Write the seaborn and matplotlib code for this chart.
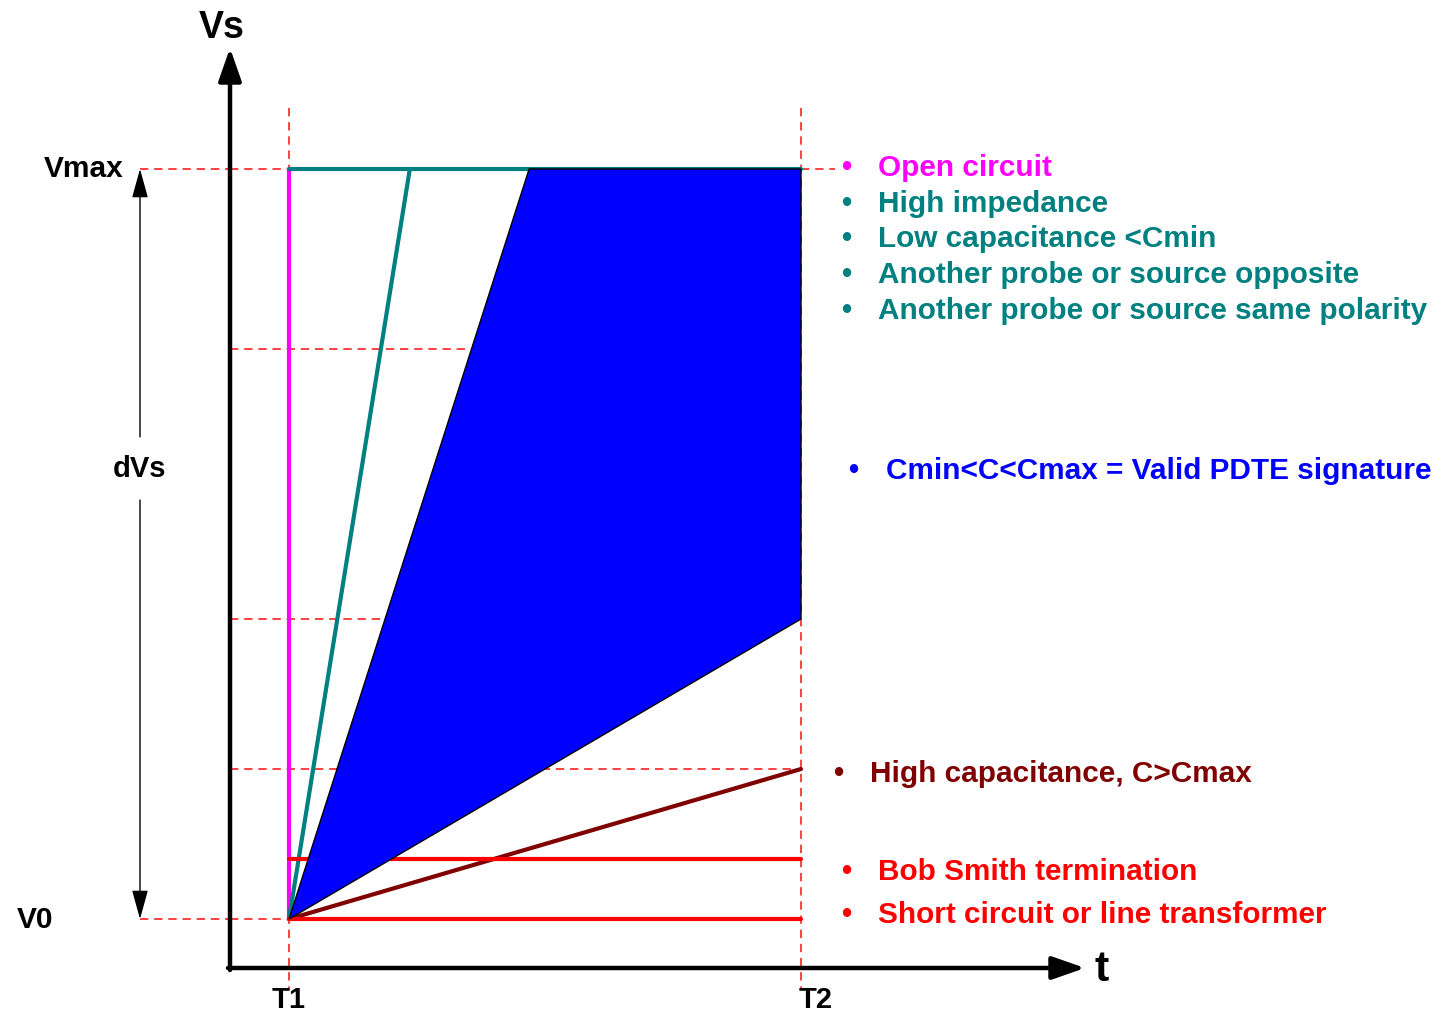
import matplotlib
matplotlib.use("Agg")
import matplotlib.pyplot as plt
from matplotlib.patches import ArrowStyle
import seaborn as sns
import pandas as pd

# ---------------- data (T1 = 0, T2 = 1 ; V0 = 0, Vmax = 1) ----------------
T1, T2 = 0.0, 1.0
V0, VMAX = 0.0, 1.0
ref_levels = [1.0, 0.76, 0.40, 0.20, 0.0]          # dashed reference levels
teal_t_at_vmax = 0.236                              # high impedance ramp reaches Vmax
valid_upper_t_at_vmax = 0.469                       # valid region upper boundary
valid_lower_v_at_t2 = 0.40                          # valid region lower boundary at T2
high_cap_v_at_t2 = 0.20                             # high capacitance ramp at T2
bob_smith_v = 0.08                                  # Bob Smith termination level
short_v = 0.0                                       # short circuit level

legend_items = [
    ("Open circuit", "#FF00FF", 165, 846, 878),
    ("High impedance", "#008080", 201, 846, 878),
    ("Low capacitance <Cmin", "#008080", 236, 846, 878),
    ("Another probe or source opposite", "#008080", 272, 846, 878),
    ("Another probe or source same polarity", "#008080", 308, 846, 878),
    ("Cmin<C<Cmax = Valid PDTE signature", "#0000FF", 468, 853, 886),
    ("High capacitance, C>Cmax", "#800000", 771, 838, 870),
    ("Bob Smith termination", "#FF0000", 869, 846, 878),
    ("Short circuit or line transformer", "#FF0000", 912, 846, 878),
]

# ---------------- figure ----------------
sns.set_theme(style="white")
plt.rcParams["font.family"] = ["Liberation Sans", "DejaVu Sans"]

W, H = 1445, 1013
fig = plt.figure(figsize=(W / 100, H / 100), dpi=100)
ax = fig.add_axes([0, 0, 1, 1])
XS, YS = 512.0, 750.0
X0P, Y0P = 289.0, 919.0
ax.set_xlim(-X0P / XS, (W - X0P) / XS)
ax.set_ylim((Y0P - H) / YS, Y0P / YS)
ax.axis("off")


def px(x):
    return (x - X0P) / XS


def py(y):
    return (Y0P - y) / YS


RED = "#FF2020"
dash = (0, (5, 3.5))

# dashed reference lines (behind everything)
for lv in ref_levels:
    ax.plot([px(230), T2], [lv, lv], color=RED, lw=1.2, ls=dash, zorder=1)
ax.plot([px(140), px(230)], [VMAX, VMAX], color=RED, lw=1.2, ls=dash, zorder=1)
ax.plot([px(140), px(230)], [V0, V0], color=RED, lw=1.2, ls=dash, zorder=1)
ax.plot([T2, px(835)], [VMAX, VMAX], color=RED, lw=1.2, ls=dash, zorder=1)
for tv in (T1, T2):
    ax.plot([tv, tv], [py(108), py(990)], color=RED, lw=1.2, ls=dash, zorder=1)

# curves
lines = pd.DataFrame({
    "t": [T1, T1, T1, teal_t_at_vmax, T1, T2, T1, T2, T1, T2, T1, T2],
    "v": [V0, VMAX, V0, VMAX, VMAX, VMAX, V0, high_cap_v_at_t2,
          bob_smith_v, bob_smith_v, short_v, short_v],
    "case": ["open", "open", "himp", "himp", "top", "top", "hicap", "hicap",
             "bob", "bob", "short", "short"],
})
palette = {"open": "#FF00FF", "himp": "#008080", "top": "#008080",
           "hicap": "#800000", "bob": "#FF0000", "short": "#FF0000"}
sns.lineplot(data=lines, x="t", y="v", hue="case", palette=palette,
             sort=False, estimator=None, lw=3, legend=False, ax=ax, zorder=3)

# valid region
ax.fill([T1, valid_upper_t_at_vmax, T2, T2],
        [V0, VMAX, VMAX, valid_lower_v_at_t2],
        facecolor="#0000FF", edgecolor="black", lw=1.0, zorder=4)

# axes arrows
head = ArrowStyle("-|>", head_length=0.8, head_width=0.28)
ax.annotate("", xy=(px(230), py(48)), xytext=(px(230), py(970)),
            arrowprops=dict(arrowstyle=head, lw=3.2, color="black",
                            mutation_scale=25, shrinkA=0, shrinkB=0), zorder=5)
ax.annotate("", xy=(px(1085), py(968)), xytext=(px(228), py(968)),
            arrowprops=dict(arrowstyle=head, lw=3.2, color="black",
                            mutation_scale=25, shrinkA=0, shrinkB=0), zorder=5)

# dVs double arrow
head2 = ArrowStyle("-|>", head_length=0.9, head_width=0.25)
ax.annotate("", xy=(px(140), VMAX), xytext=(px(140), py(437)),
            arrowprops=dict(arrowstyle=head2, lw=1.0, color="black",
                            mutation_scale=20, shrinkA=0, shrinkB=0))
ax.annotate("", xy=(px(140), V0), xytext=(px(140), py(500)),
            arrowprops=dict(arrowstyle=head2, lw=1.0, color="black",
                            mutation_scale=20, shrinkA=0, shrinkB=0))

# labels
bold = dict(fontweight="bold", color="black")
ax.text(px(222), py(28), "Vs", fontsize=27, ha="center", va="center", **bold)
ax.text(px(1102), py(970), "t", fontsize=31, ha="center", va="center", **bold)
ax.text(px(84), py(169), "Vmax", fontsize=21.5, ha="center", va="center", **bold)
ax.text(px(35), py(920), "V0", fontsize=21.5, ha="center", va="center", **bold)
ax.text(px(139), py(469), "dVs", fontsize=21, ha="center", va="center", **bold)
ax.text(T1, py(1000), "T1", fontsize=21, ha="center", va="center", **bold)
ax.text(px(816), py(1000), "T2", fontsize=21, ha="center", va="center", **bold)

for label, col, yy, xb, xt in legend_items:
    ax.text(px(xb), py(yy + 3), "•", fontsize=21, color=col, ha="center",
            va="center", fontweight="bold")
    ax.text(px(xt), py(yy + 3), label, fontsize=21.4, color=col, ha="left",
            va="center", fontweight="bold")

fig.savefig("out.png", dpi=100)
